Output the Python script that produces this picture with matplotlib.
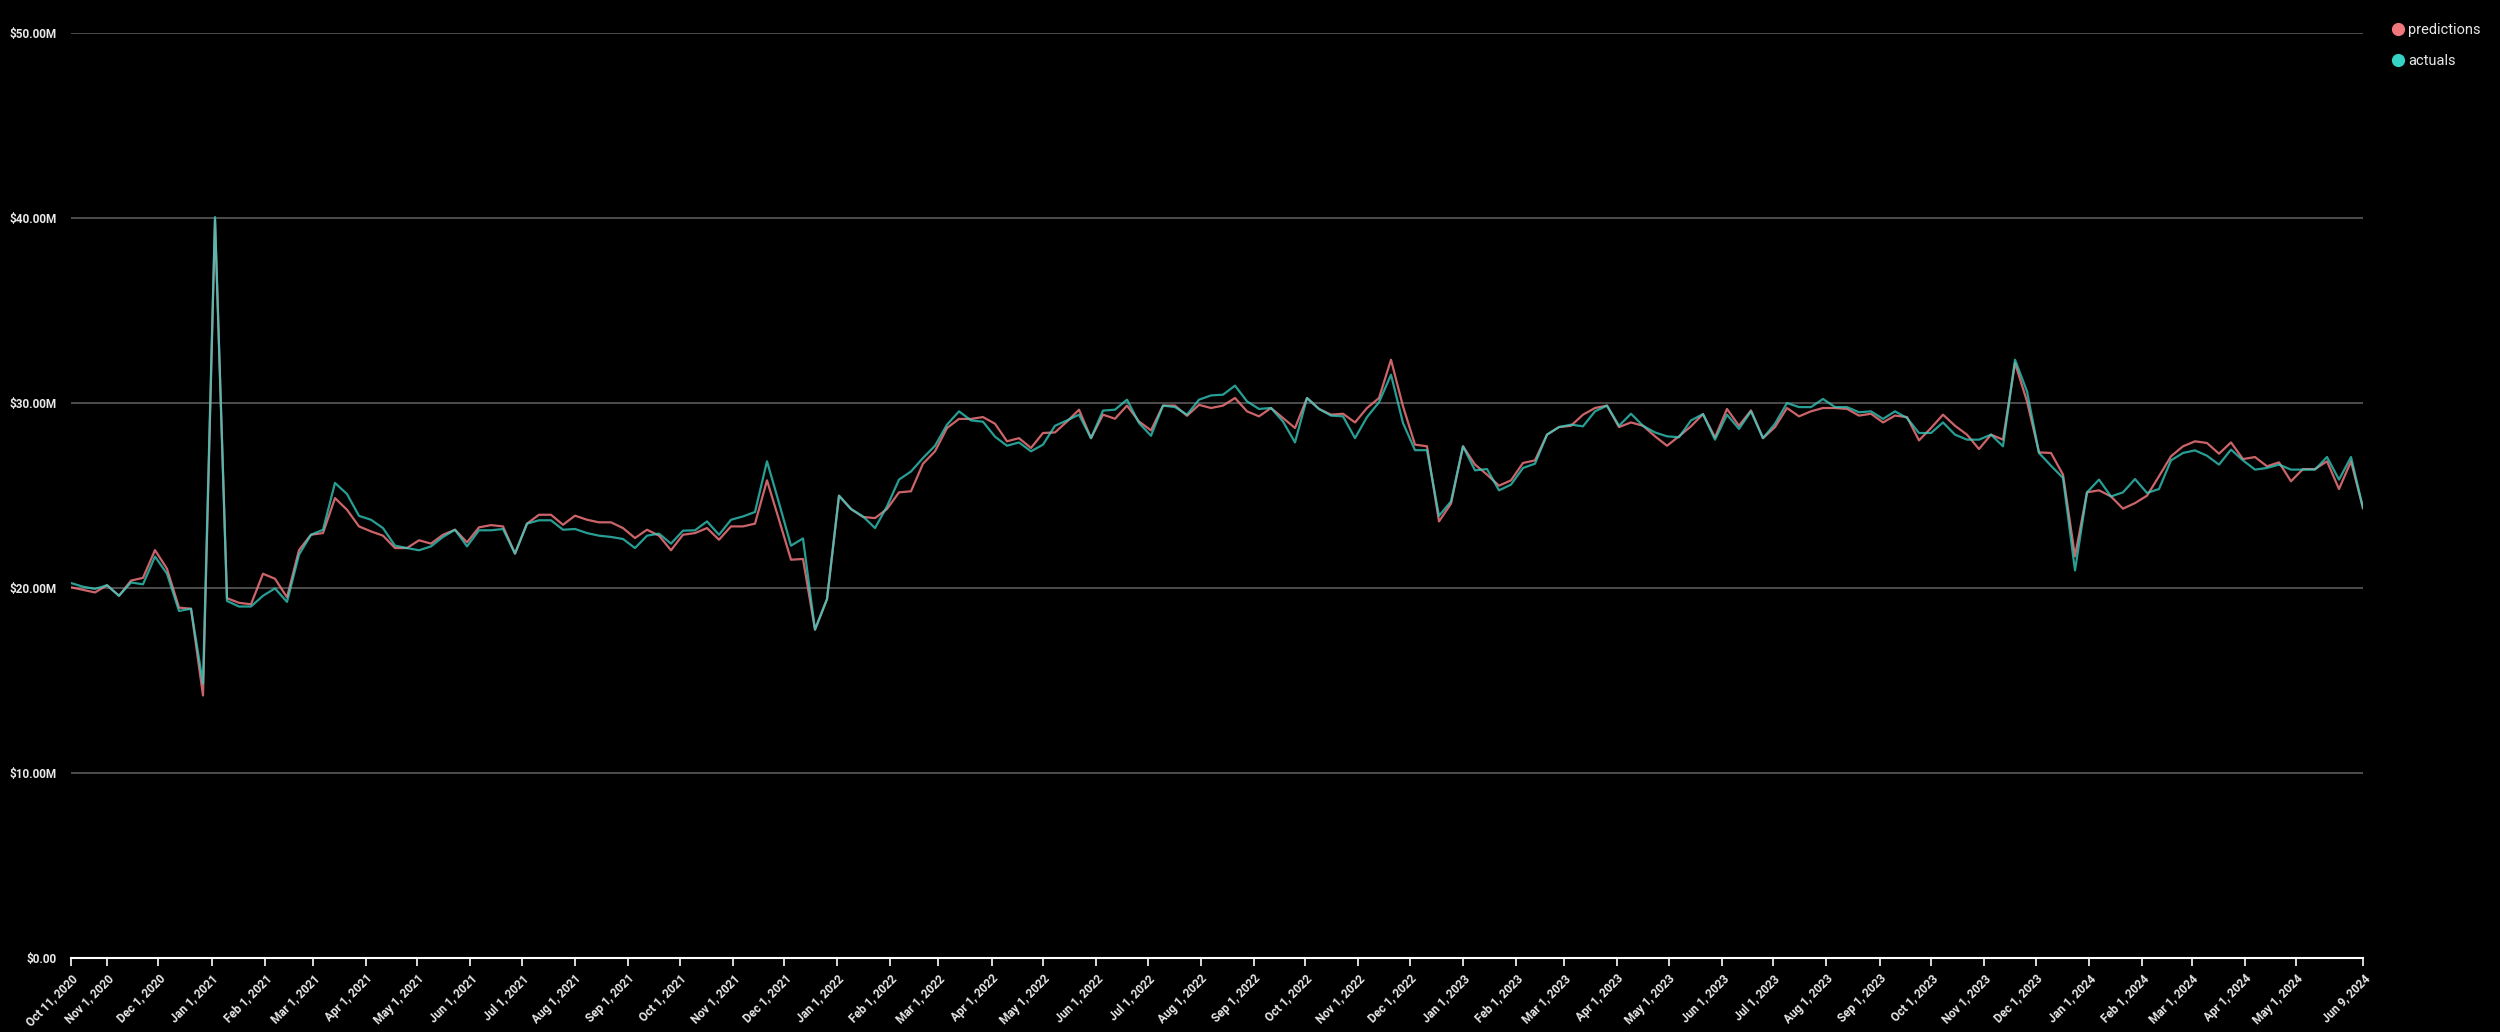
import pandas as pd
import numpy as np
import matplotlib.pyplot as plt
from matplotlib.lines import Line2D
from matplotlib.ticker import FuncFormatter

# weekly values in $M
start_date = '2020-10-11'
end_date = '2024-06-09'

predictions = [
    20.04, 19.90, 19.76, 20.15, 19.58, 20.40, 20.55, 22.05, 21.04, 18.94,
    18.88, 14.19, 39.90, 19.45, 19.20, 19.12, 20.77, 20.50, 19.50, 22.05,
    22.88, 22.97, 24.86, 24.23, 23.33, 23.06, 22.83, 22.16, 22.16, 22.58,
    22.40, 22.88, 23.15, 22.47, 23.28, 23.40, 23.33, 21.86, 23.48, 23.96,
    23.96, 23.42, 23.91, 23.69, 23.55, 23.55, 23.24, 22.70, 23.15, 22.83,
    22.04, 22.88, 22.97, 23.24, 22.61, 23.33, 23.33, 23.48, 25.82, 23.69,
    21.53, 21.57, 17.75, 19.40, 24.99, 24.27, 23.84, 23.78, 24.27, 25.17,
    25.23, 26.72, 27.39, 28.65, 29.14, 29.14, 29.24, 28.88, 27.93, 28.10,
    27.57, 28.38, 28.41, 29.00, 29.64, 28.10, 29.37, 29.15, 29.86, 29.00,
    28.52, 29.86, 29.86, 29.31, 29.90, 29.73, 29.86, 30.27, 29.55, 29.28,
    29.73, 29.19, 28.65, 30.27, 29.68, 29.37, 29.42, 28.95, 29.73, 30.27,
    32.34, 29.82, 27.75, 27.66, 23.60, 24.56, 27.66, 26.67, 26.13, 25.53,
    25.82, 26.76, 26.90, 28.29, 28.70, 28.77, 29.37, 29.73, 29.86, 28.70,
    28.95, 28.77, 28.20, 27.69, 28.20, 28.74, 29.40, 28.14, 29.68, 28.77,
    29.60, 28.10, 28.70, 29.73, 29.28, 29.55, 29.73, 29.73, 29.68, 29.32,
    29.42, 28.95, 29.32, 29.24, 27.98, 28.65, 29.37, 28.77, 28.29, 27.51,
    28.29, 28.02, 32.16, 30.09, 27.33, 27.30, 26.13, 21.71, 25.17, 25.28,
    24.95, 24.29, 24.59, 24.99, 26.04, 27.12, 27.66, 27.93, 27.84, 27.26,
    27.87, 26.97, 27.08, 26.58, 26.79, 25.77, 26.43, 26.43, 26.85, 25.35,
    26.85, 24.32,
]

actuals = [
    20.27, 20.07, 19.95, 20.15, 19.58, 20.30, 20.20, 21.70, 20.77, 18.76,
    18.88, 14.83, 40.05, 19.30, 19.00, 19.00, 19.58, 19.98, 19.25, 21.80,
    22.88, 23.15, 25.68, 25.08, 23.90, 23.69, 23.24, 22.29, 22.16, 22.04,
    22.25, 22.76, 23.15, 22.25, 23.12, 23.12, 23.19, 21.86, 23.48, 23.66,
    23.66, 23.15, 23.19, 22.97, 22.83, 22.76, 22.65, 22.16, 22.83, 22.94,
    22.40, 23.10, 23.12, 23.60, 22.88, 23.69, 23.87, 24.11, 26.85, 24.60,
    22.29, 22.68, 17.75, 19.40, 24.99, 24.27, 23.87, 23.24, 24.41, 25.86,
    26.30, 27.03, 27.69, 28.83, 29.55, 29.06, 28.99, 28.18, 27.69, 27.87,
    27.39, 27.75, 28.77, 29.06, 29.37, 28.10, 29.59, 29.64, 30.18, 28.92,
    28.23, 29.86, 29.78, 29.37, 30.18, 30.41, 30.45, 30.94, 30.09, 29.68,
    29.73, 29.00, 27.87, 30.27, 29.68, 29.32, 29.28, 28.10, 29.24, 30.04,
    31.53, 28.92, 27.45, 27.45, 23.90, 24.68, 27.66, 26.36, 26.43, 25.28,
    25.59, 26.49, 26.72, 28.29, 28.70, 28.83, 28.74, 29.55, 29.86, 28.77,
    29.42, 28.77, 28.41, 28.20, 28.15, 29.06, 29.40, 28.02, 29.37, 28.60,
    29.55, 28.10, 28.88, 30.00, 29.78, 29.78, 30.22, 29.78, 29.78, 29.50,
    29.55, 29.14, 29.55, 29.19, 28.38, 28.38, 28.95, 28.29, 28.02, 28.02,
    28.29, 27.66, 32.34, 30.63, 27.30, 26.61, 25.95, 20.95, 25.17, 25.86,
    24.95, 25.17, 25.89, 25.14, 25.35, 26.90, 27.30, 27.44, 27.15, 26.67,
    27.48, 26.90, 26.40, 26.49, 26.67, 26.40, 26.40, 26.40, 27.08, 25.86,
    27.08, 24.32,
]

pred_color = '#f0777c'
actual_color = '#35d3c5'
text_color = '#e8e8e8'


def money_fmt(v, pos):
    if v == 0:
        return '$0.00'
    return f'${v:.2f}M'


dates = pd.date_range(start_date, end_date, freq='W-SUN')

plt.rcParams['font.family'] = ['Roboto', 'DejaVu Sans']

fig = plt.figure(figsize=(25, 10.32), dpi=100, facecolor='black')
ax = fig.add_axes([0.0284, 0.0717, 0.9168, 0.8963])
ax.set_facecolor('black')

ax.plot(dates, predictions, color=pred_color, linewidth=1.6, alpha=0.85)
ax.plot(dates, actuals, color=actual_color, linewidth=1.6, alpha=0.75)

ax.set_ylim(0, 50)
ax.set_yticks([0, 10, 20, 30, 40, 50])
ax.yaxis.set_major_formatter(FuncFormatter(money_fmt))
ax.grid(axis='y', color='#5a5a5a', linewidth=1.2)
ax.set_axisbelow(True)
ax.tick_params(axis='y', length=0, pad=10, labelsize=8.5, labelcolor=text_color)
for lbl in ax.get_yticklabels():
    lbl.set_fontweight('bold')

# x ticks: first date, first of every month, last date
ax.set_xlim(dates[0], dates[-1])
months = pd.date_range('2020-11-01', '2024-05-01', freq='MS')
tick_dates = [dates[0]] + list(months) + [dates[-1]]
tick_labels = [d.strftime('%b ') + str(d.day) + d.strftime(', %Y') for d in tick_dates]
ax.set_xticks(tick_dates)
ax.set_xticklabels(tick_labels, rotation=45, ha='right', rotation_mode='anchor',
                   fontsize=8.5, fontweight='bold', color=text_color)
ax.tick_params(axis='x', length=6, width=1.2, color='white', pad=4)

for side in ['left', 'right', 'top']:
    ax.spines[side].set_visible(False)
ax.spines['bottom'].set_color('white')
ax.spines['bottom'].set_linewidth(1.5)

handles = [
    Line2D([], [], marker='o', linestyle='', markersize=8.5, color=pred_color, label='predictions'),
    Line2D([], [], marker='o', linestyle='', markersize=8.5, color=actual_color, label='actuals'),
]
fig.legend(handles=handles, loc='upper left', bbox_to_anchor=(0.951, 0.990),
           frameon=False, fontsize=10.5, labelcolor=text_color,
           handletextpad=0.2, labelspacing=1.15, handlelength=1.0)

fig.savefig('out.png', dpi=100, facecolor='black')
